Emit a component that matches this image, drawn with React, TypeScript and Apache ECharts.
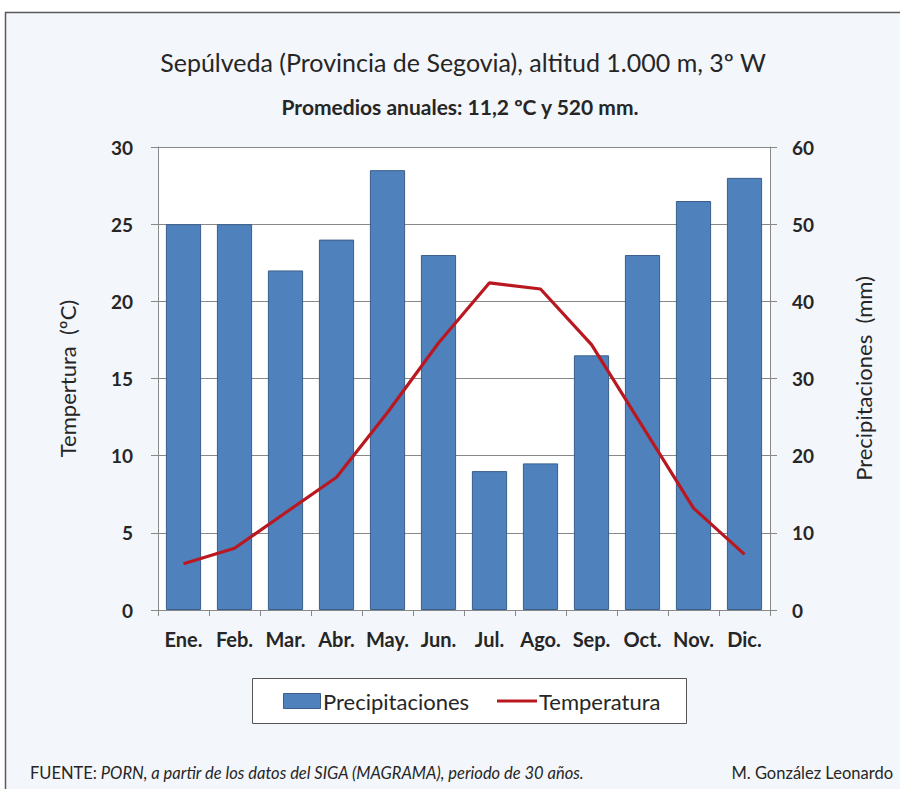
import React, { useEffect, useRef } from "react";
import * as echarts from "echarts";

const months = ["Ene.", "Feb.", "Mar.", "Abr.", "May.", "Jun.", "Jul.", "Ago.", "Sep.", "Oct.", "Nov.", "Dic."];
const precipitaciones = [50, 50, 44, 48, 57, 46, 18, 19, 33, 46, 53, 56];
const temperatura = [3.0, 4.0, 6.3, 8.6, 12.8, 17.3, 21.2, 20.8, 17.2, 11.9, 6.6, 3.6];
const titleText = "Sepúlveda (Provincia de Segovia), altitud 1.000 m, 3º W";
const subtitleText = "Promedios anuales: 11,2 ºC y 520 mm.";
const sourceLabel = "FUENTE:";
const sourceText = " PORN, a partir de los datos del SIGA (MAGRAMA), periodo de 30 años.";
const authorText = "M. González Leonardo";
const seriesNames = ["Precipitaciones", "Temperatura"];

const FONT = "Lato, 'Open Sans', sans-serif";
const TEXT = "#262626";
const BAR = "#4F81BD";
const BAR_BORDER = "#3a5f8c";
const LINE = "#BA1820";

export default function App() {
  const ref = useRef<HTMLDivElement>(null);
  useEffect(() => {
    if (!ref.current) return;
    const chart = echarts.init(ref.current, null, { renderer: "svg" });
    chart.setOption({
      animation: false,
      backgroundColor: "#ffffff",
      textStyle: { fontFamily: FONT },
      graphic: [
        {
          type: "rect",
          z: -10,
          silent: true,
          shape: { x: 5.5, y: 12.5, width: 900, height: 800 },
          style: { fill: "#F3F6FA", stroke: "#5a5a5a", lineWidth: 1.5 },
        },
        {
          type: "text",
          x: 463,
          y: 62,
          style: { text: titleText, font: `25px ${FONT}`, fill: TEXT, textAlign: "center", textVerticalAlign: "middle" },
        },
        {
          type: "text",
          x: 460,
          y: 106,
          style: { text: subtitleText, font: `bold 21px ${FONT}`, fill: TEXT, textAlign: "center", textVerticalAlign: "middle" },
        },
        {
          type: "text",
          x: 30,
          y: 773,
          style: {
            text: `{a|${sourceLabel}}{b|${sourceText}}`,
            rich: {
              a: { font: `16.5px ${FONT}`, fill: TEXT },
              b: { font: `italic 16.5px ${FONT}`, fill: TEXT },
            },
            textAlign: "left",
            textVerticalAlign: "middle",
          },
        },
        {
          type: "text",
          x: 893,
          y: 773,
          style: { text: authorText, font: `16.5px ${FONT}`, fill: TEXT, textAlign: "right", textVerticalAlign: "middle" },
        },
        // legend
        {
          type: "rect",
          shape: { x: 252.5, y: 678.5, width: 434, height: 45 },
          style: { fill: "#ffffff", stroke: "#555555", lineWidth: 1 },
        },
        {
          type: "rect",
          shape: { x: 283.5, y: 693.5, width: 37, height: 15 },
          style: { fill: BAR, stroke: BAR_BORDER, lineWidth: 1 },
        },
        {
          type: "text",
          x: 323,
          y: 701,
          style: { text: seriesNames[0], font: `22px ${FONT}`, fill: TEXT, textAlign: "left", textVerticalAlign: "middle" },
        },
        {
          type: "line",
          shape: { x1: 497, y1: 701, x2: 537, y2: 701 },
          style: { stroke: LINE, lineWidth: 3 },
        },
        {
          type: "text",
          x: 539,
          y: 701,
          style: { text: seriesNames[1], font: `22px ${FONT}`, fill: TEXT, textAlign: "left", textVerticalAlign: "middle" },
        },
      ],
      grid: {
        left: 158,
        right: 130,
        top: 147,
        bottom: 179,
        show: true,
        backgroundColor: "#ffffff",
        borderWidth: 0,
      },
      xAxis: {
        type: "category",
        data: months,
        boundaryGap: true,
        axisLine: { lineStyle: { color: "#888888", width: 1 } },
        axisTick: { show: true, alignWithLabel: false, interval: 0, length: 6, lineStyle: { color: "#888888" } },
        axisLabel: { color: TEXT, fontSize: 20, fontWeight: "bold", fontFamily: FONT, margin: 19, interval: 0, hideOverlap: false },
      },
      yAxis: [
        {
          type: "value",
          min: 0,
          max: 30,
          interval: 5,
          name: "Tempertura  (ºC)",
          nameLocation: "middle",
          nameGap: 80,
          nameRotate: 90,
          nameTextStyle: { color: TEXT, fontSize: 22, fontFamily: FONT },
          axisLine: { show: true, lineStyle: { color: "#888888" } },
          axisTick: { show: true, length: 7, lineStyle: { color: "#888888" } },
          axisLabel: { color: TEXT, fontSize: 19, fontWeight: "bold", fontFamily: FONT, margin: 25 },
          splitLine: { show: true, lineStyle: { color: "#888888", width: 1 } },
        },
        {
          type: "value",
          min: 0,
          max: 60,
          interval: 10,
          position: "right",
          name: "Precipitaciones  (mm)",
          nameLocation: "middle",
          nameGap: 82,
          nameRotate: 90,
          nameTextStyle: { color: TEXT, fontSize: 22, fontFamily: FONT },
          axisLine: { show: true, lineStyle: { color: "#888888" } },
          axisTick: { show: true, length: 7, lineStyle: { color: "#888888" } },
          axisLabel: { color: TEXT, fontSize: 19, fontWeight: "bold", fontFamily: FONT, margin: 22 },
          splitLine: { show: false },
        },
      ],
      series: [
        {
          name: seriesNames[0],
          type: "bar",
          yAxisIndex: 1,
          data: precipitaciones,
          barCategoryGap: "31%",
          itemStyle: { color: BAR, borderColor: BAR_BORDER, borderWidth: 1 },
        },
        {
          name: seriesNames[1],
          type: "line",
          yAxisIndex: 0,
          data: temperatura,
          symbol: "none",
          lineStyle: { color: LINE, width: 3.2 },
          itemStyle: { color: LINE },
        },
      ],
    });
    return () => chart.dispose();
  }, []);
  return <div ref={ref} style={{ position: "absolute", left: 0, top: 0, width: 900, height: 789 }} />;
}
